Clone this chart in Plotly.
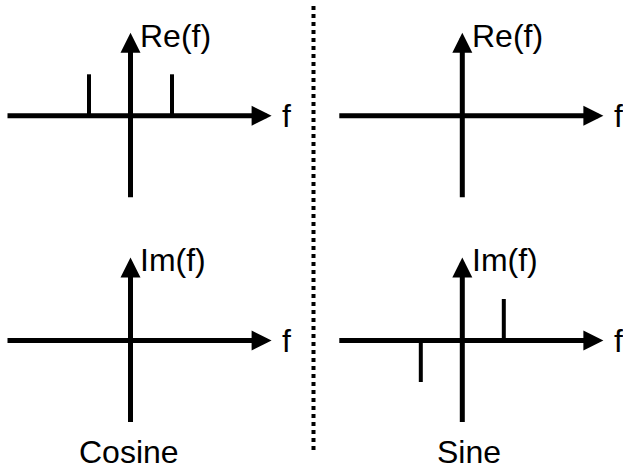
#!/usr/bin/env python3
'''
    Fourier spectra of a cosine and a sine: real / imaginary parts
'''

import plotly.graph_objects as go

# spectral lines: frequency in units of f0, height in units of A/2
cos_re_f = [-1, 1]
cos_re_amp = [1, 1]
cos_im_f = []
cos_im_amp = []
sin_re_f = []
sin_re_amp = []
sin_im_f = [-1, 1]
sin_im_amp = [-1, 1]

# extent of the drawn axes (same units)
f_axis = [-3.0, 3.4]
amp_axis = [-2.0, 2.0]

col_titles = ['Cosine', 'Sine']
row_labels = ['Re(f)', 'Im(f)']
x_label = 'f'

# panel order: top-left, top-right, bottom-left, bottom-right
panels = [
    (cos_re_f, cos_re_amp, row_labels[0]),
    (sin_re_f, sin_re_amp, row_labels[0]),
    (cos_im_f, cos_im_amp, row_labels[1]),
    (sin_im_f, sin_im_amp, row_labels[1]),
]

W, H = 623, 471
S = 41.5  # pixels per unit
col_px = [(0, 313, 130.5), (313, 623, 462.3)]   # left, right, origin
row_px = [(0, 228, 115.8), (228, 471, 340.5)]   # top, bottom, origin

FONT = "Liberation Sans, Arial, sans-serif"
FSIZE = 32

fig = go.Figure()
layout = {}
annotations = []

for i, (fs, amps, ylab) in enumerate(panels):
    r, c = divmod(i, 2)
    x0, x1, ox = col_px[c]
    y0, y1, oy = row_px[r]
    n = '' if i == 0 else str(i + 1)
    layout['xaxis' + n] = dict(domain=[x0 / W, x1 / W],
                               range=[(x0 - ox) / S, (x1 - ox) / S],
                               visible=False, fixedrange=True, anchor='y' + n)
    layout['yaxis' + n] = dict(domain=[1 - y1 / H, 1 - y0 / H],
                               range=[-(y1 - oy) / S, (oy - y0) / S],
                               visible=False, fixedrange=True, anchor='x' + n)
    xr, yr = 'x' + n, 'y' + n

    # spectral lines
    xs, ys = [], []
    for f, a in zip(fs, amps):
        xs += [f, f, None]
        ys += [0, a, None]
    fig.add_trace(go.Scatter(x=xs, y=ys, mode='lines', xaxis=xr, yaxis=yr,
                             line=dict(color='black', width=4),
                             hoverinfo='skip', showlegend=False))

    # axes drawn as arrows
    arrow = dict(text='', showarrow=True, arrowhead=2, arrowsize=0.8,
                 arrowwidth=5, arrowcolor='black', standoff=0,
                 xref=xr, yref=yr, axref=xr, ayref=yr, font=dict(size=1))
    annotations.append(dict(arrow, x=f_axis[1], y=0, ax=f_axis[0], ay=0))
    annotations.append(dict(arrow, x=0, y=amp_axis[1], ax=0, ay=amp_axis[0]))

    # labels
    annotations.append(dict(text=ylab, x=0.18, y=1.93, xref=xr, yref=yr,
                            xanchor='left', yanchor='middle', showarrow=False,
                            font=dict(family=FONT, size=FSIZE, color='black')))
    annotations.append(dict(text=x_label, x=3.6, y=0, xref=xr, yref=yr,
                            xanchor='left', yanchor='middle', showarrow=False,
                            font=dict(family=FONT, size=FSIZE, color='black')))
    if r == 1:
        annotations.append(dict(text=col_titles[c], x=[-0.04, 0.17][c], y=-2.69,
                                xref=xr, yref=yr, xanchor='center', yanchor='middle',
                                showarrow=False,
                                font=dict(family=FONT, size=FSIZE, color='black')))

# dotted divider
fig.add_shape(type='line', xref='paper', yref='paper',
              x0=313.5 / W, x1=313.5 / W, y0=1 - 6 / H, y1=1 - 452 / H,
              line=dict(color='black', width=4, dash='dot'))

fig.update_layout(width=W, height=H, margin=dict(l=0, r=0, t=0, b=0),
                  paper_bgcolor='white', plot_bgcolor='white',
                  showlegend=False, annotations=annotations, **layout)

fig.write_html("out.html", config={'displayModeBar': False},
               post_script="document.body.style.margin = '0';")
